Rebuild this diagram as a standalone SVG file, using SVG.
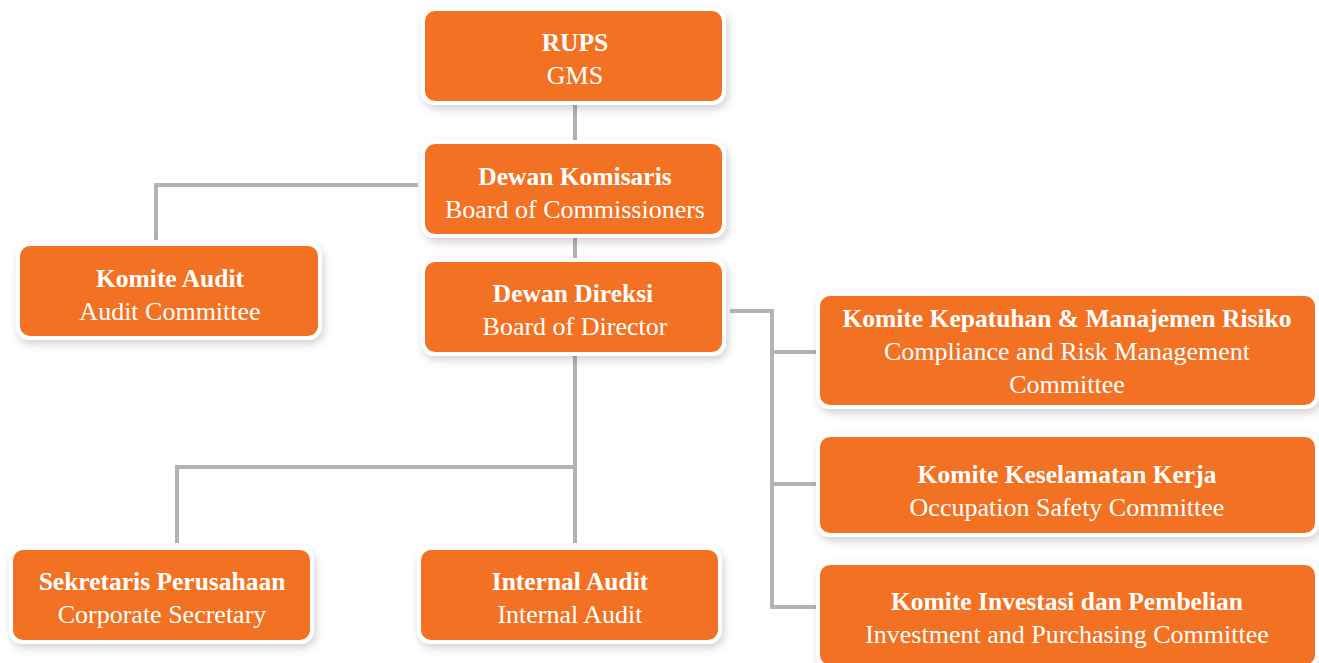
<svg xmlns="http://www.w3.org/2000/svg" width="1319" height="663" viewBox="0 0 1319 663">
<style>
.box{fill:#F27124;stroke:#FFFFFF;stroke-width:4;filter:url(#sh)}
.t{font-family:"Liberation Serif","Times New Roman",serif;font-size:26px;fill:#FFFFFF;text-anchor:middle}
.b{font-weight:bold;font-size:25.5px}
.c{fill:none;stroke:#B1B3B6;stroke-width:4}
</style>
<defs>
<filter id="sh" x="-10%" y="-20%" width="120%" height="150%">
<feDropShadow dx="2" dy="4" stdDeviation="4" flood-color="#000000" flood-opacity="0.18"/>
</filter>
</defs>
<rect width="1319" height="663" fill="#FFFFFF"/>
<g id="connectors">
<path class="c" d="M575,101 V143"/>
<path class="c" d="M418,185 H156 V240"/>
<path class="c" d="M575,235 V262"/>
<path class="c" d="M575,356 V543"/>
<path class="c" d="M575,467 H177 V543"/>
<path class="c" d="M730,311 H772 V607 H820"/>
<path class="c" d="M772,352 H820"/>
<path class="c" d="M772,484 H820"/>
</g>
<g id="rups">
<rect class="box" x="423" y="9" width="301" height="94" rx="12"/>
<text class="t b" x="575" y="51">RUPS</text>
<text class="t" x="575" y="84">GMS</text>
</g>
<g id="komisaris">
<rect class="box" x="423" y="142" width="301" height="94" rx="12"/>
<text class="t b" x="575" y="185">Dewan Komisaris</text>
<text class="t" x="575" y="218">Board of Commissioners</text>
</g>
<g id="komite-audit">
<rect class="box" x="18" y="244" width="302" height="94" rx="12"/>
<text class="t b" x="170" y="287">Komite Audit</text>
<text class="t" x="170" y="320">Audit Committee</text>
</g>
<g id="direksi">
<rect class="box" x="423" y="260" width="301" height="94" rx="12"/>
<text class="t b" x="573" y="302">Dewan Direksi</text>
<text class="t" x="575" y="335">Board of Director</text>
</g>
<g id="kepatuhan">
<rect class="box" x="818" y="294" width="499" height="113" rx="12"/>
<text class="t b" x="1067" y="327">Komite Kepatuhan &amp; Manajemen Risiko</text>
<text class="t" x="1067" y="360">Compliance and Risk Management</text>
<text class="t" x="1067" y="393">Committee</text>
</g>
<g id="keselamatan">
<rect class="box" x="818" y="435" width="499" height="100" rx="12"/>
<text class="t b" x="1067" y="483">Komite Keselamatan Kerja</text>
<text class="t" x="1067" y="516">Occupation Safety Committee</text>
</g>
<g id="investasi">
<rect class="box" x="818" y="563" width="499" height="104" rx="12"/>
<text class="t b" x="1067" y="610">Komite Investasi dan Pembelian</text>
<text class="t" x="1067" y="643">Investment and Purchasing Committee</text>
</g>
<g id="sekretaris">
<rect class="box" x="11" y="548" width="301" height="94" rx="12"/>
<text class="t b" x="162" y="590">Sekretaris Perusahaan</text>
<text class="t" x="162" y="623">Corporate Secretary</text>
</g>
<g id="internal-audit">
<rect class="box" x="419" y="548" width="301" height="94" rx="12"/>
<text class="t b" x="570" y="590">Internal Audit</text>
<text class="t" x="570" y="623">Internal Audit</text>
</g>
</svg>
